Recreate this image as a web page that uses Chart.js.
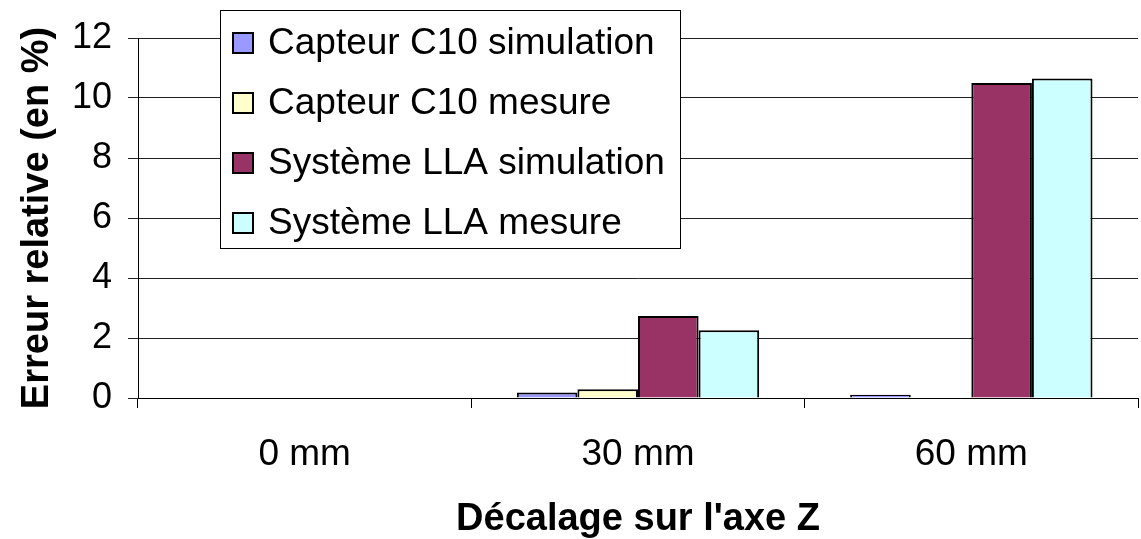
<!DOCTYPE html>
<html>
<head>
<meta charset="utf-8">
<script src="https://cdn.jsdelivr.net/npm/chart.js@4"></script>
<style>
  html, body { margin: 0; padding: 0; background: #fff; }
  #wrap { width: 1141px; height: 539px; }
</style>
</head>
<body>
<div id="wrap"><canvas id="graphique"></canvas></div>
<script>
// donnees
const categories = ['0 mm', '30 mm', '60 mm'];
const c10Simulation = [0, 0.18, 0.11];
const c10Mesure = [0, 0.29, 0];
const llaSimulation = [0, 2.73, 10.5];
const llaMesure = [0, 2.26, 10.65];
const yTicks = [0, 2, 4, 6, 8, 10, 12];

const police = '"Liberation Sans", Arial, sans-serif';

// legende dessinee dans la zone du graphique, comme dans Excel
const legendeInterne = {
    id: 'legendeInterne',
    afterDraw(chart) {
        const ctx = chart.ctx;
        const x = 220, y = 10, w = 460, h = 238;
        ctx.save();
        ctx.fillStyle = '#fff';
        ctx.fillRect(x, y, w, h);
        ctx.strokeStyle = '#000';
        ctx.lineWidth = 1;
        ctx.strokeRect(x + 0.5, y + 0.5, w, h);
        ctx.font = '37px ' + police;
        ctx.textBaseline = 'middle';
        chart.data.datasets.forEach((ds, i) => {
            const cy = 43 + i * 60;
            ctx.fillStyle = ds.backgroundColor;
            ctx.fillRect(233, cy - 10, 20, 20);
            ctx.lineWidth = 2;
            ctx.strokeStyle = '#000';
            ctx.strokeRect(233, cy - 10, 20, 20);
            ctx.fillStyle = '#000';
            ctx.fillText(ds.label, 268, cy + 1);
        });
        ctx.restore();
    }
};

const ctx = document.getElementById('graphique').getContext('2d');
new Chart(ctx, {
    type: 'bar',
    data: {
        labels: categories,
        datasets: [
            { label: 'Capteur C10 simulation', data: c10Simulation, backgroundColor: '#9999FF' },
            { label: 'Capteur C10 mesure', data: c10Mesure, backgroundColor: '#FFFFCC' },
            { label: 'Système LLA simulation', data: llaSimulation, backgroundColor: '#993366' },
            { label: 'Système LLA mesure', data: llaMesure, backgroundColor: '#CCFFFF' }
        ].map(ds => Object.assign(ds, {
            borderColor: '#000',
            borderWidth: 2,
            borderSkipped: 'bottom',
            categoryPercentage: 0.727,
            barPercentage: 1
        }))
    },
    options: {
        responsive: true,
        maintainAspectRatio: false,
        animation: false,
        layout: { padding: { top: 38, right: 3, left: 0, bottom: 0 } },
        plugins: {
            legend: { display: false },
            tooltip: { enabled: false }
        },
        scales: {
            x: {
                grid: { display: true, drawOnChartArea: false, drawTicks: true, tickLength: 10, color: '#000', offset: true },
                border: { display: true, color: '#000', width: 1 },
                ticks: { color: '#000', font: { family: police, size: 37 }, padding: 25 },
                title: { display: true, text: "Décalage sur l'axe Z", color: '#000', font: { family: police, size: 38, weight: 'bold', lineHeight: 1 }, padding: { top: 10, bottom: 0 } },
                afterFit: s => { s.height = 141; }
            },
            y: {
                min: 0,
                max: 12,
                afterBuildTicks: s => { s.ticks = yTicks.map(v => ({ value: v })); },
                grid: { color: '#222', lineWidth: 1, tickLength: 10 },
                border: { display: true, color: '#000', width: 1 },
                ticks: { color: '#000', font: { family: police, size: 36 }, padding: 16 },
                title: { display: true, text: 'Erreur relative (en %)', color: '#000', font: { family: police, size: 38, weight: 'bold', lineHeight: 1 }, padding: { top: 19, bottom: 4 } },
                afterFit: s => { s.width = 138; }
            }
        }
    },
    plugins: [legendeInterne]
});
</script>
</body>
</html>
